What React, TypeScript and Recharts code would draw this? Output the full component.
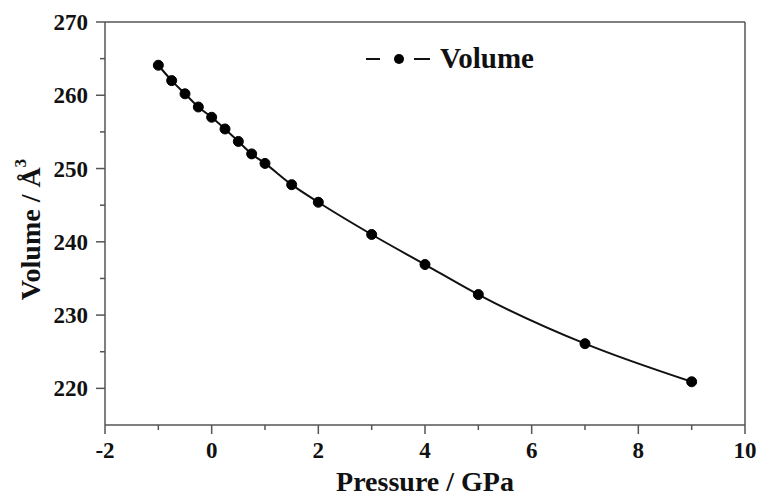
import React from "react"
import { LineChart, Line, XAxis, YAxis, ReferenceLine } from "recharts"

const pressures = [-1, -0.75, -0.5, -0.25, 0, 0.25, 0.5, 0.75, 1, 1.5, 2, 3, 4, 5, 7, 9]
const volumes = [264.1, 262, 260.2, 258.4, 257, 255.4, 253.7, 252, 250.7, 247.8, 245.4, 241, 236.9, 232.8, 226.1, 220.9]
const xTicks = [-2, -1, 0, 1, 2, 3, 4, 5, 6, 7, 8, 9, 10]
const yTicks = [220, 225, 230, 235, 240, 245, 250, 255, 260, 265, 270]
const seriesName = "Volume"

const data = pressures.map((p, i) => ({ pressure: p, volume: volumes[i] }))

const font = "'Liberation Serif', 'Times New Roman', serif"
const axisColor = "#555"

function YTick({ x, y, payload }: any) {
  const major = payload.value % 10 === 0
  return (
    <g>
      <line x1={x} x2={x - (major ? 9 : 5)} y1={y} y2={y} stroke={axisColor} strokeWidth={1.5} />
      {major && (
        <text x={x - 17} y={y} dy={8} textAnchor="end" fontFamily={font} fontWeight="bold" fontSize={23} fill="#111">
          {payload.value}
        </text>
      )}
    </g>
  )
}

function XTick({ x, y, payload }: any) {
  const major = payload.value % 2 === 0
  return (
    <g>
      <line x1={x} x2={x} y1={y} y2={y + (major ? 9 : 5)} stroke={axisColor} strokeWidth={1.5} />
      {major && (
        <text x={x} y={y + 33} textAnchor="middle" fontFamily={font} fontWeight="bold" fontSize={23} fill="#111">
          {payload.value}
        </text>
      )}
    </g>
  )
}

function YTitle({ viewBox }: any) {
  const cy = viewBox.y + viewBox.height / 2 + 6
  return (
    <text
      x={40}
      y={cy}
      transform={`rotate(-90 40 ${cy})`}
      textAnchor="middle"
      fontFamily={font}
      fontWeight="bold"
      fontSize={28}
      fill="#111"
    >
      Volume / Å<tspan fontSize={17} dy={-14}>3</tspan>
    </text>
  )
}

function XTitle({ viewBox }: any) {
  const cx = viewBox.x + viewBox.width / 2
  return (
    <text x={cx} y={491} textAnchor="middle" fontFamily={font} fontWeight="bold" fontSize={28} fill="#111">
      Pressure / GPa
    </text>
  )
}

export default function App() {
  return (
    <div style={{ position: "absolute", left: 0, top: 0, width: 762, height: 497, background: "#fff" }}>
      <LineChart width={762} height={497} data={data} margin={{ top: 22, right: 17, bottom: 0, left: 0 }}>
        <XAxis
          dataKey="pressure"
          type="number"
          domain={[-2, 10]}
          ticks={xTicks}
          interval={0}
          height={72}
          tickSize={0}
          tickMargin={0}
          tickLine={false}
          tick={<XTick />}
          stroke={axisColor}
          strokeWidth={1.5}
          label={<XTitle />}
        />
        <YAxis
          type="number"
          domain={[215, 270]}
          ticks={yTicks}
          interval={0}
          width={105}
          tickSize={0}
          tickMargin={0}
          tickLine={false}
          tick={<YTick />}
          stroke={axisColor}
          strokeWidth={1.5}
          label={<YTitle />}
        />
        <ReferenceLine x={10} stroke={axisColor} strokeWidth={1.5} />
        <ReferenceLine y={270} stroke={axisColor} strokeWidth={1.5} />
        <Line
          dataKey="volume"
          name={seriesName}
          type="monotone"
          stroke="#111"
          strokeWidth={2}
          dot={{ r: 5, fill: "#000", stroke: "#000", strokeWidth: 1 }}
          isAnimationActive={false}
        />
      </LineChart>
      <div
        style={{
          position: "absolute",
          left: 364,
          top: 42,
          display: "flex",
          alignItems: "center",
          fontFamily: font,
          fontWeight: "bold",
          fontSize: 29,
          color: "#111",
        }}
      >
        <svg width={68} height={20}>
          <line x1={2} x2={16} y1={10} y2={10} stroke="#111" strokeWidth={2} />
          <circle cx={35} cy={10} r={5} fill="#000" />
          <line x1={50} x2={66} y1={10} y2={10} stroke="#111" strokeWidth={2} />
        </svg>
        <span style={{ marginLeft: 8 }}>{seriesName}</span>
      </div>
    </div>
  )
}
